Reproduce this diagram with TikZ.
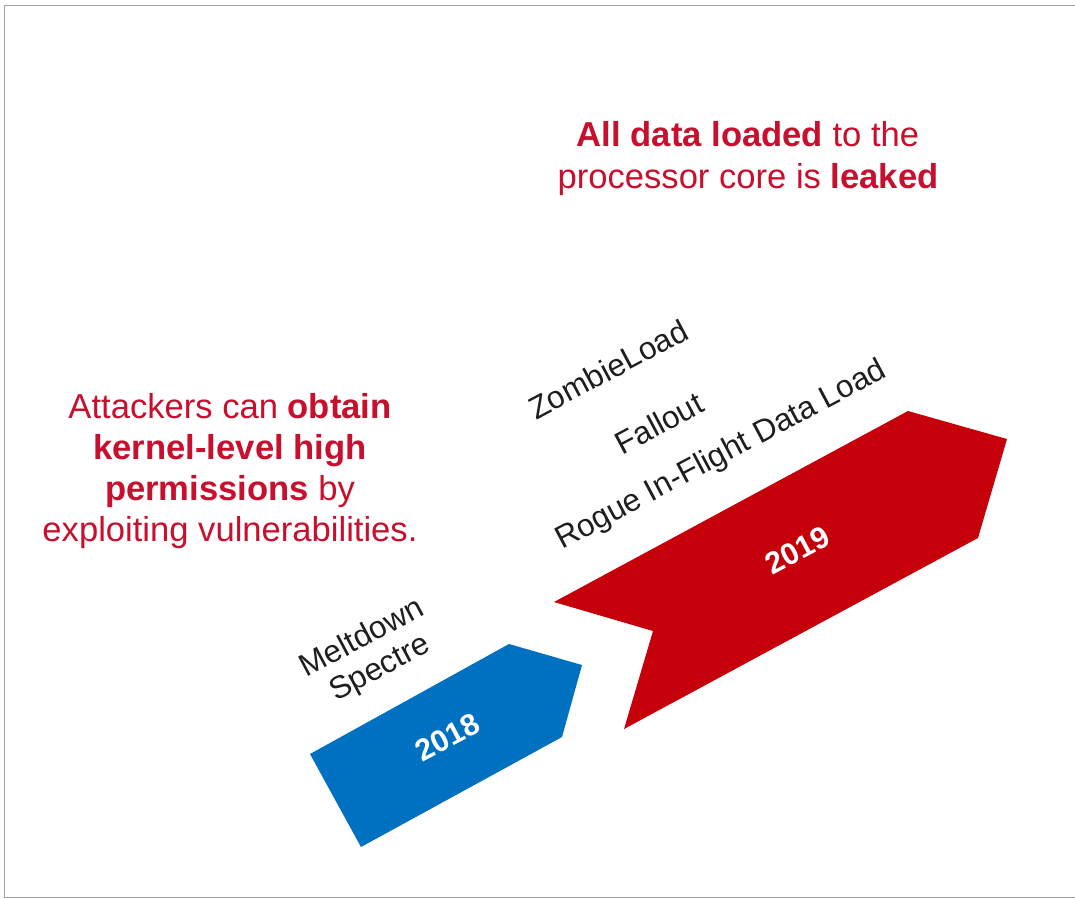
\documentclass[tikz,border=0pt]{standalone}
\usepackage{fontspec}
\setmainfont{Liberation Sans}
\definecolor{hlred}{RGB}{200,16,46}
\definecolor{band18}{RGB}{0,112,192}
\definecolor{band19}{RGB}{197,0,11}
\definecolor{framegray}{RGB}{160,160,160}
\definecolor{lbltext}{RGB}{30,30,30}
\begin{document}
\begin{tikzpicture}[x=1pt,y=-1pt,
  note/.style={text=hlred, align=center, inner sep=0pt, font=\fontsize{34.6}{41}\selectfont},
  vuln/.style={text=lbltext, rotate=28, inner sep=0pt, text height=22.6pt, text depth=0pt, font=\fontsize{31.5}{36}\selectfont},
  year/.style={text=white, rotate=28, inner sep=0pt, text height=21.8pt, text depth=0pt, font=\fontsize{30.5}{36}\selectfont\bfseries},
  band/.style={draw=none}]
\useasboundingbox (0,0) rectangle (1075,898);
\fill[white] (0,0) rectangle (1075,898);
% slide frame (open on the right)
\draw[framegray, line width=1pt] (1075,5.5) -- (4.5,5.5) -- (4.5,897) -- (1075,897);

% 2018 band
\fill[band18, band] (310,754) -- (509,644) -- (582,665) -- (562,737) -- (361,847) -- cycle;
% 2019 chevron
\fill[band19, band] (554,602) -- (908,411) -- (1007,439) -- (978,538) -- (624,729) -- (653,631) -- cycle;

\node[year] (y18) at (447,737) {2018};
\node[year] (y19) at (797,550) {2019};

\node[vuln] (melt) at (361,636) {Meltdown};
\node[vuln] (spec) at (379,666) {Spectre};
\node[vuln] (zomb) at (608,369) {ZombieLoad};
\node[vuln] (fall) at (659,423) {Fallout};
\node[vuln] (ridl) at (720,453) {Rogue In-Flight Data Load};

\node[note] (kern) at (230,471) {Attackers can \textbf{obtain}\\ \textbf{kernel-level high}\\ \textbf{permissions} by\\ exploiting vulnerabilities.};
\node[note, font=\fontsize{34.6}{42}\selectfont] (leak) at (748,159) {\textbf{All data loaded} to the\\ processor core is \textbf{leaked}};
\end{tikzpicture}
\end{document}
